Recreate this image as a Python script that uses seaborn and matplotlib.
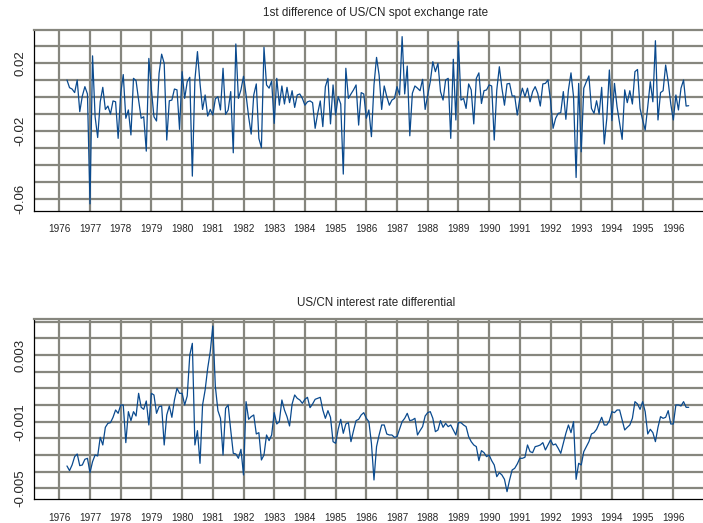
import numpy as np
import pandas as pd
import matplotlib
matplotlib.use("Agg")
import matplotlib.pyplot as plt
import seaborn as sns
from matplotlib.ticker import MultipleLocator, FixedLocator, FuncFormatter

# ---- data (monthly, Apr 1976 .. Jul 1996) ----
start_year = 1976
start_month = 4

spot_diff = [
    0.0098, 0.0053, 0.0045, 0.0024, 0.0098, -0.0088, 0.0004, 0.0059, 0.0016,
    -0.063, 0.024, -0.0118, -0.024, -0.003, 0.0055, -0.0075, -0.0055, -0.0102, -0.0025, -0.003, -0.0245,
    0.002, 0.013, -0.0127, -0.0078, -0.0225, 0.0108, 0.0094, -0.002, -0.0127, -0.0118, -0.032, 0.0225,
    0.004, -0.0118, -0.0143, 0.0137, 0.025, 0.0196, -0.0255, -0.0024, -0.002, 0.0045, 0.004, -0.0192,
    0.0147, -0.001, 0.0088, 0.0114, -0.0467, 0.0098, 0.0265, 0.0078, -0.0075, 0.001, -0.0114, -0.0075,
    -0.0108, -0.0012, 0.0, -0.0078, 0.0167, -0.0104, -0.0078, 0.003, -0.033, 0.031, -0.001, 0.004,
    0.012, 0.001, -0.0118, -0.022, 0.001, 0.0075, -0.0245, -0.030, 0.029, 0.0069, 0.005, 0.0092,
    -0.0157, 0.0108, -0.005, 0.0063, -0.0043, 0.0055, -0.0035, 0.0035, -0.0063, 0.001, 0.0016, -0.001,
    -0.005, -0.003, -0.0025, -0.0035, -0.0186, -0.0098, -0.0025, -0.0176, 0.0059, 0.0108, -0.016, 0.0069,
    -0.0108, 0.0, -0.0043, -0.0455, 0.0167, -0.001, 0.0016, 0.004, 0.0069, -0.0167, 0.0024, 0.0016,
    -0.0127, -0.0078, -0.0235, 0.0069, 0.0231, 0.0127, -0.0075, 0.0063, 0.0, -0.005, -0.002, -0.001,
    0.0059, 0.001, 0.0353, 0.0016, 0.018, -0.023, 0.002, 0.0063, 0.005, 0.0035, 0.0102, -0.0075,
    0.001, 0.0088, 0.0206, 0.0147, 0.0196, 0.003, -0.002, 0.0098, 0.0108, -0.0245, 0.022, -0.0137,
    0.0324, -0.002, -0.001, -0.0069, 0.0075, 0.004, -0.016, 0.0108, 0.014, -0.004, 0.0035, 0.004,
    0.0069, 0.0063, -0.0255, 0.004, 0.0176, 0.005, -0.005, 0.0075, 0.0078, 0.0004, 0.0004, -0.0108,
    -0.001, 0.005, 0.0, 0.005, -0.003, 0.003, 0.0059, 0.002, -0.0055, 0.0075, 0.0078, 0.0098,
    -0.002, -0.0186, -0.0127, -0.0098, -0.0094, 0.003, -0.0133, 0.004, 0.014, 0.0, -0.0475, 0.0078,
    -0.0324, 0.005, 0.0088, 0.0122, -0.0069, -0.0098, -0.0024, -0.0102, 0.0055, -0.0278, -0.0127, 0.0157,
    -0.0141, 0.0078, -0.0059, -0.0157, -0.0251, 0.004, -0.0035, 0.0035, -0.0043, 0.0147, 0.016, -0.0069,
    -0.0137, -0.0196, -0.0059, 0.0088, -0.003, 0.0329, -0.0137, 0.0024, 0.0035, 0.0186, 0.0088, -0.0043,
    -0.0137, 0.001, -0.0078, 0.005, 0.0098, -0.0055, -0.0053,
]

rate_diff = [
    -0.00366, -0.00394, -0.0036, -0.0031, -0.00294, -0.00364, -0.0036, -0.00326, -0.0032,
    -0.00406, -0.0034, -0.0030, -0.00306, -0.00194, -0.0024, -0.00134, -0.0011, -0.00106, -0.00074, -0.0003, -0.0005,
    0.0, 0.0, -0.00226, -0.0004, -0.00094, -0.0004, -0.00066, 0.0007, -0.00014, -0.00026, 0.00024, -0.0012,
    0.0007, 0.0006, -0.0005, -0.0001, -0.00006, -0.0024, -0.0006, -0.00006, -0.00074, 0.0003, 0.001, 0.0007,
    0.0007, 0.0, 0.00054, 0.003, 0.0037, -0.0024, -0.00154, -0.0035, 0.0, 0.0009, 0.0022, 0.0032,
    0.00474, 0.0011, -0.00034, -0.0008, -0.003, -0.0002, 0.0, -0.0015, -0.0029, -0.00294, -0.0032, -0.00266,
    -0.0042, 0.0002, -0.00086, -0.0007, -0.0006, -0.00174, -0.00166, -0.0033, -0.003, -0.0018, -0.00214, -0.0018,
    -0.00046, -0.00114, -0.001, 0.0003, -0.0003, -0.0007, -0.00126, 0.00006, 0.0006, 0.0004, 0.0003, 0.0001,
    0.00034, 0.00046, -0.00016, 0.00006, 0.00034, 0.0004, 0.00046, -0.0003, -0.0008, -0.00034, -0.00074, -0.0022,
    -0.0023, -0.00146, -0.00086, -0.0017, -0.00114, -0.00106, -0.0022, -0.00154, -0.00094, -0.00086, -0.0006, -0.00046,
    -0.0008, -0.001, -0.0023, -0.0045, -0.0025, -0.0018, -0.0012, -0.0012, -0.00174, -0.0018, -0.0018, -0.00194,
    -0.0019, -0.00146, -0.001, -0.0008, -0.0005, -0.00094, -0.0009, -0.0008, -0.0018, -0.00154, -0.0013, -0.00066,
    -0.00046, -0.0004, -0.0008, -0.0016, -0.0015, -0.00094, -0.00134, -0.0011, -0.0013, -0.0012, -0.0015, -0.0018,
    -0.00106, -0.00106, -0.0012, -0.0013, -0.0019, -0.0022, -0.0024, -0.0025, -0.00334, -0.00274, -0.00286, -0.0031,
    -0.003, -0.00334, -0.0036, -0.0043, -0.00406, -0.0042, -0.00446, -0.0052, -0.0045, -0.0039, -0.0038, -0.00354,
    -0.0032, -0.0032, -0.00314, -0.0024, -0.0028, -0.00286, -0.0025, -0.00246, -0.0024, -0.00226, -0.0027, -0.0024,
    -0.0021, -0.0024, -0.00234, -0.0026, -0.0029, -0.0023, -0.0017, -0.0012, -0.00166, -0.001, -0.00446, -0.0035,
    -0.0036, -0.0028, -0.0025, -0.0022, -0.00174, -0.00166, -0.00146, -0.0011, -0.00074, -0.0012, -0.0012, -0.00094,
    -0.0004, -0.00046, -0.0003, -0.0003, -0.0009, -0.0015, -0.00134, -0.0012, -0.0008, 0.0002, 0.00006, -0.00026,
    0.0002, -0.0004, -0.00174, -0.00146, -0.00166, -0.0022, -0.00134, -0.0007, -0.0008, -0.00074, -0.00034, -0.00114,
    -0.00114, 0.0, 0.0, -0.00006, 0.0002, -0.00014, -0.00014,
]

years = list(range(1976, 1997))
top_title = "1st difference of US/CN spot exchange rate"
bottom_title = "US/CN interest rate differential"
top_yticks = [0.02, -0.02, -0.06]
bottom_yticks = [0.003, -0.001, -0.005]

# ---- build frame ----
n = len(spot_diff)
t = start_year + (start_month - 1) / 12 + np.arange(n) / 12
df = pd.DataFrame({"t": t, "spot": spot_diff, "rate": rate_diff[:n]})

sns.set_style("white")
plt.rcParams["font.family"] = ["Liberation Sans", "DejaVu Sans"]

W, H = 703, 523
fig = plt.figure(figsize=(W / 100, H / 100), dpi=100)

LINE = "#0a4a8e"
GRID = "#86867e"

def px_axes(left, right, top, bottom):
    return fig.add_axes([left / W, (H - bottom) / H, (right - left) / W, (bottom - top) / H])

def style(ax, col, ylim, ystep, yminor, ylabels, fmt, title, title_y):
    sns.lineplot(data=df, x="t", y=col, ax=ax, color=LINE, lw=0.9)
    ax.set_xlim(1975.176, 1997.39)
    ax.set_ylim(*ylim)
    ax.set_xlabel("")
    ax.set_ylabel("")
    ax.xaxis.set_major_locator(FixedLocator(years))
    ax.xaxis.set_minor_locator(MultipleLocator(0.25))
    ax.set_xticklabels([str(y) for y in years], fontsize=7.2)
    ax.yaxis.set_major_locator(MultipleLocator(ystep))
    ax.yaxis.set_minor_locator(MultipleLocator(yminor))
    lab = set(round(v, 6) for v in ylabels)
    ax.yaxis.set_major_formatter(FuncFormatter(
        lambda v, p: fmt.format(v) if round(v, 6) in lab else ""))
    for tl in ax.get_yticklabels():
        tl.set_rotation(90)
        tl.set_va("center")
        tl.set_fontsize(9.5)
    ax.tick_params(axis="y", which="major", length=2.5, width=0.8, pad=3, color="black")
    ax.tick_params(axis="y", which="minor", length=1.8, width=0.7, color="black")
    ax.tick_params(axis="x", which="major", length=2.8, width=0.9, pad=6.8, color="black")
    ax.tick_params(axis="x", which="minor", length=2.2, width=0.8, color="black")
    ax.grid(True, which="major", color=GRID, lw=1.6)
    ax.set_axisbelow(True)
    for s in ("left", "bottom"):
        ax.spines[s].set_color("black")
        ax.spines[s].set_linewidth(0.9)
    ax.spines["top"].set_color(GRID)
    ax.spines["top"].set_linewidth(1.6)
    ax.spines["right"].set_visible(False)
    fig.text(376 / W, 1 - title_y / H, title, ha="center", va="center", fontsize=8.4)

ax1 = px_axes(34, 716, 30, 211)
style(ax1, "spot", (-0.0672, 0.0392), 0.01, 0.002, top_yticks, "{:.2f}", top_title, 13)

ax2 = px_axes(34, 716, 319, 499.3)
style(ax2, "rate", (-0.00566, 0.00516), 0.001, 0.0002, bottom_yticks, "{:.3f}", bottom_title, 303)

fig.savefig("out.png", dpi=100)
